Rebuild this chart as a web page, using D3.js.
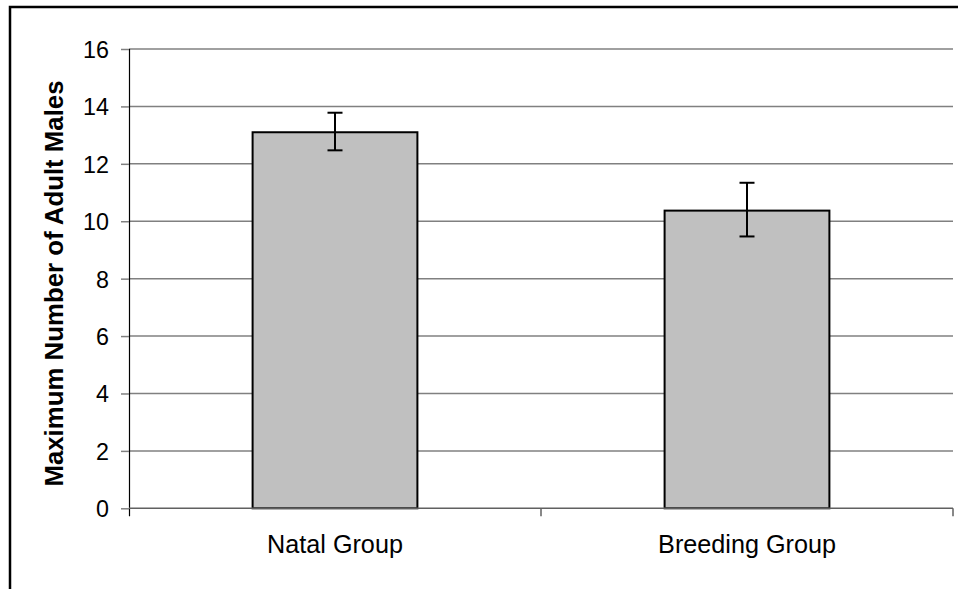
<!DOCTYPE html>
<html><head><meta charset="utf-8">
<script src="https://cdn.jsdelivr.net/npm/d3@7"></script>
<style>html,body{margin:0;padding:0;background:#fff;overflow:hidden}</style>
</head><body>
<svg id="c" width="958" height="589"></svg>
<script>
const categories = ["Natal Group", "Breeding Group"];
const means = [13.1, 10.37];
const errLow = [12.47, 9.47];
const errHigh = [13.78, 11.34];
const yTicks = [0, 2, 4, 6, 8, 10, 12, 14, 16];
const yTitle = "Maximum Number of Adult Males";

const svg = d3.select("#c");
const font = "Arial, 'Liberation Sans', sans-serif";
const L = 129, R = 953, T = 49, B = 508.3;

// outer frame
svg.append("rect").attr("x", 10).attr("y", 7).attr("width", 960).attr("height", 600)
  .attr("fill", "none").attr("stroke", "#000").attr("stroke-width", 2.5);

const y = d3.scaleLinear().domain([0, 16]).range([B, T]);
const x = d3.scaleBand().domain(categories).range([L, R]).paddingInner(0.6).paddingOuter(0.3);

// gridlines
svg.append("g").selectAll("line").data(yTicks.filter(d => d > 0)).join("line")
  .attr("x1", L).attr("x2", R).attr("y1", d => y(d)).attr("y2", d => y(d))
  .attr("stroke", "#808080").attr("stroke-width", 1.5);

// bars
svg.append("g").selectAll("rect").data(categories).join("rect")
  .attr("x", d => x(d)).attr("width", x.bandwidth())
  .attr("y", (d, i) => y(means[i])).attr("height", (d, i) => B - y(means[i]))
  .attr("fill", "#c0c0c0").attr("stroke", "#000").attr("stroke-width", 2);

// error bars
const eb = svg.append("g").attr("stroke", "#000").attr("stroke-width", 2);
categories.forEach((c, i) => {
  const cx = x(c) + x.bandwidth() / 2;
  eb.append("line").attr("x1", cx).attr("x2", cx).attr("y1", y(errHigh[i])).attr("y2", y(errLow[i]));
  eb.append("line").attr("x1", cx - 7.5).attr("x2", cx + 7.5).attr("y1", y(errHigh[i])).attr("y2", y(errHigh[i]));
  eb.append("line").attr("x1", cx - 7.5).attr("x2", cx + 7.5).attr("y1", y(errLow[i])).attr("y2", y(errLow[i]));
});

// y axis
const ya = svg.append("g").attr("transform", `translate(${L},0)`)
  .call(d3.axisLeft(y).tickValues(yTicks).tickSize(8).tickPadding(12).tickFormat(d3.format("d")));
ya.select(".domain").attr("stroke", "#000").attr("stroke-width", 1.2).attr("d", `M0.5,${T}V${B + 8}`);
ya.selectAll(".tick line").attr("stroke", "#808080").attr("stroke-width", 1.5);
ya.selectAll(".tick text").attr("font-family", font).attr("font-size", 23.3).attr("fill", "#000").attr("dy", "0.36em");

// x axis
const xa = svg.append("g").attr("transform", `translate(0,${B})`);
xa.append("line").attr("x1", L).attr("x2", R).attr("y1", 0).attr("y2", 0)
  .attr("stroke", "#606060").attr("stroke-width", 1.5);
const bounds = [L + x.step() * 0, L + x.step() * 1, L + x.step() * 2];
xa.selectAll(".bt").data(bounds.slice(1)).join("line").attr("class", "bt")
  .attr("x1", d => d).attr("x2", d => d).attr("y1", 0).attr("y2", 8)
  .attr("stroke", "#606060").attr("stroke-width", 1.5);
xa.selectAll("text").data(categories).join("text")
  .attr("x", d => x(d) + x.bandwidth() / 2).attr("y", 45)
  .attr("text-anchor", "middle").attr("font-family", font).attr("font-size", 25.2).attr("fill", "#000")
  .text(d => d);

// y title
svg.append("text").attr("transform", "translate(63,283.5) rotate(-90)")
  .attr("text-anchor", "middle").attr("font-family", font).attr("font-weight", "bold")
  .attr("font-size", 25.8).attr("fill", "#000").text(yTitle);
</script>
</body></html>
